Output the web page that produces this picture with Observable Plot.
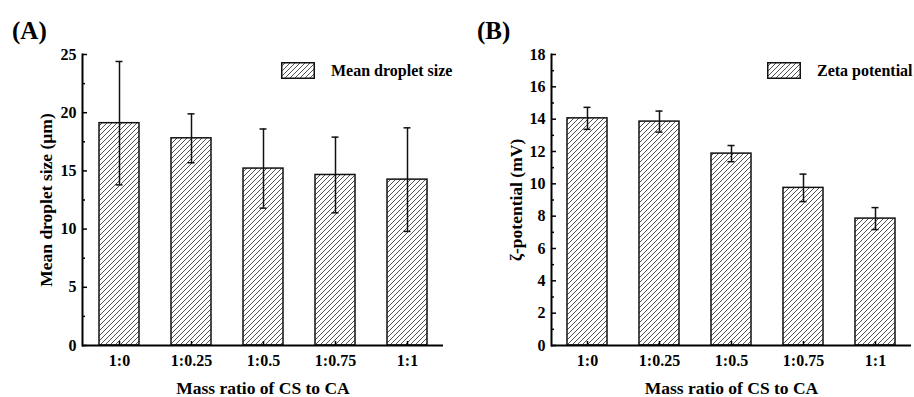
<!DOCTYPE html>
<html><head><meta charset="utf-8">
<script src="https://cdn.jsdelivr.net/npm/d3@7"></script>
<script src="https://cdn.jsdelivr.net/npm/@observablehq/plot@0.6"></script>
<style>
body{margin:0;background:#fff;}
#wrap{position:relative;width:914px;height:397px;overflow:hidden;font-family:"Liberation Serif","Times New Roman",serif;font-weight:bold;color:#000;background:#fff;}
.panel{position:absolute;top:0;}
.plabel{position:absolute;font-size:25px;line-height:1;}
.legend{position:absolute;display:flex;align-items:center;font-size:16px;line-height:1;}
.legend svg{margin-right:16px;}
</style></head><body>
<div id="wrap">
  <div class="panel" id="pA" style="left:0"></div>
  <div class="panel" id="pB" style="left:457px"></div>
  <div class="plabel" style="left:12px;top:18px">(A)</div>
  <div class="plabel" style="left:477px;top:18px">(B)</div>
  <div class="legend" id="legA" style="left:281px;top:62px"></div>
  <div class="legend" id="legB" style="left:767px;top:62px"></div>
</div>
<script>
const categories = ["1:0", "1:0.25", "1:0.5", "1:0.75", "1:1"];
const sizeMean = [19.1, 17.8, 15.2, 14.65, 14.25];
const sizeErr = [5.3, 2.1, 3.4, 3.25, 4.45];
const zetaMean = [14.05, 13.85, 11.87, 9.75, 7.85];
const zetaErr = [0.68, 0.65, 0.5, 0.85, 0.68];
const sizeTicks = [0, 5, 10, 15, 20, 25];
const sizeMinor = [2.5, 7.5, 12.5, 17.5, 22.5];
const zetaTicks = [0, 2, 4, 6, 8, 10, 12, 14, 16, 18];
const zetaMinor = [1, 3, 5, 7, 9, 11, 13, 15, 17];
const xTitle = "Mass ratio of CS to CA";
const sizeTitle = "Mean droplet size (\u00b5m)";
const zetaTitle = "\u03b6-potential (mV)";
const sizeLegend = "Mean droplet size";
const zetaLegend = "Zeta potential";

function patternDef(id) {
  return `<defs><pattern id="${id}" patternUnits="userSpaceOnUse" width="5" height="5">
    <path d="M-1,1 L1,-1 M0,5 L5,0 M4,6 L6,4" stroke="#333" stroke-width="0.85"/></pattern></defs>`;
}

function panel({means, errs, domain, majors, minors, yTitle, width, marginLeft, marginRight, id, titleDx}) {
  const data = categories.map((c, i) => ({cat: c, v: means[i], e: errs[i]}));
  const svg = Plot.plot({
    width, height: 397, marginLeft, marginRight, marginTop: 54, marginBottom: 52,
    style: {fontFamily: "'Liberation Serif', 'Times New Roman', serif", fontWeight: "bold", fontSize: "16px", background: "transparent", color: "#000"},
    x: {domain: categories, paddingInner: 0.445, paddingOuter: 0.2225, label: null},
    y: {domain, label: null},
    marks: [
      Plot.barY(data, {x: "cat", y: "v", fill: `url(#${id})`, stroke: "#111", strokeWidth: 1.5}),
      Plot.ruleX(data, {x: "cat", y1: d => d.v - d.e, y2: d => d.v + d.e, stroke: "#111", strokeWidth: 1.5}),
      Plot.tickY(data, {x: "cat", y: d => d.v + d.e, inset: 16.5, stroke: "#111", strokeWidth: 1.5}),
      Plot.tickY(data, {x: "cat", y: d => d.v - d.e, inset: 16.5, stroke: "#111", strokeWidth: 1.5}),
      Plot.axisY(majors, {tickSize: -5, tickPadding: 11, fontSize: 16, fontWeight: "bold", strokeWidth: 1.5}),
      Plot.axisY(minors, {tickSize: -3, tickFormat: () => "", strokeWidth: 1.5}),
      Plot.axisX({tickSize: -4, tickPadding: 13, fontSize: 16, fontWeight: "bold", strokeWidth: 1.5}),
      Plot.ruleY([0], {strokeWidth: 2}),
      Plot.frame({anchor: "left", strokeWidth: 2}),
      Plot.text([xTitle], {text: d => d, frameAnchor: "bottom", lineAnchor: "middle", textAnchor: "middle", dy: 43, fontSize: 17.5, fontWeight: "bold"}),
      Plot.text([yTitle], {text: d => d, frameAnchor: "left", lineAnchor: "middle", textAnchor: "middle", dx: titleDx, rotate: -90, fontSize: 17.5, fontWeight: "bold"})
    ]
  });
  svg.insertAdjacentHTML("afterbegin", patternDef(id));
  return svg;
}

document.getElementById("pA").append(panel({
  means: sizeMean, errs: sizeErr, domain: [0, 25], majors: sizeTicks, minors: sizeMinor,
  yTitle: sizeTitle, width: 457, marginLeft: 82, marginRight: 14, id: "hatchA", titleDx: -36
}));
document.getElementById("pB").append(panel({
  means: zetaMean, errs: zetaErr, domain: [0, 18], majors: zetaTicks, minors: zetaMinor,
  yTitle: zetaTitle, width: 457, marginLeft: 94, marginRight: 3, id: "hatchB", titleDx: -35
}));

function legend(el, label, id) {
  el.innerHTML = `<svg width="34" height="17">${patternDef(id)}<rect x="0.75" y="0.75" width="32.5" height="15.5" fill="url(#${id})" stroke="#111" stroke-width="1.5"/></svg><span>${label}</span>`;
}
legend(document.getElementById("legA"), sizeLegend, "hatchLA");
legend(document.getElementById("legB"), zetaLegend, "hatchLB");
</script>
</body></html>
